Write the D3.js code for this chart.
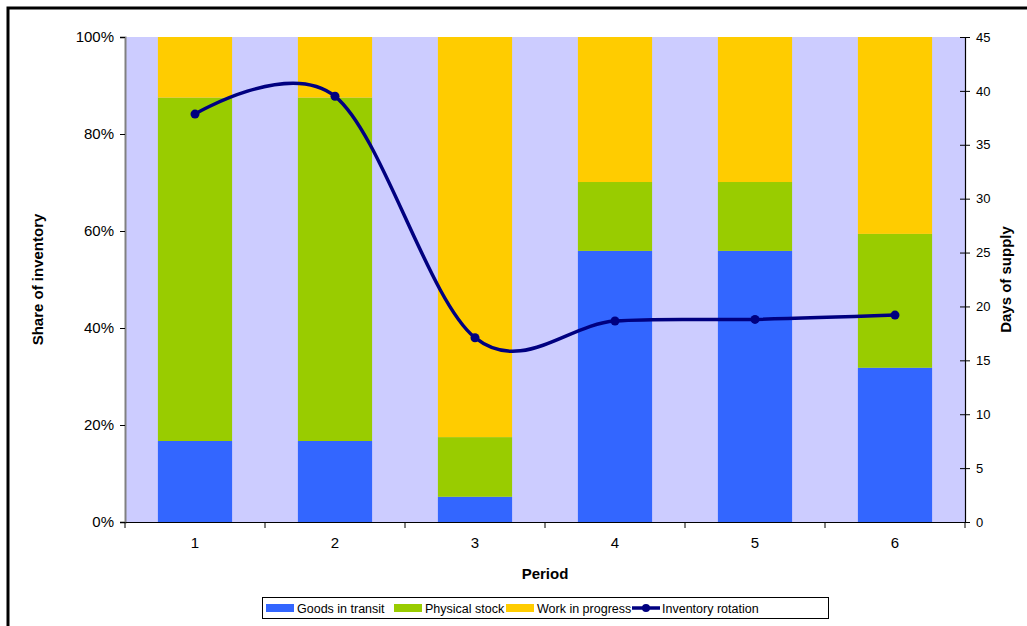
<!DOCTYPE html>
<html>
<head>
<meta charset="utf-8">
<script src="https://cdn.jsdelivr.net/npm/d3@7"></script>
<style>
  body { margin: 0; background: #fff; }
  svg { font-family: "Liberation Sans", Arial, sans-serif; }
</style>
</head>
<body>
<div id="chart"></div>
<script>
var periods = ["1", "2", "3", "4", "5", "6"];
var goodsInTransit = [16.7, 16.7, 5.2, 55.9, 55.9, 31.8];
var physicalStock = [70.8, 70.8, 12.3, 14.2, 14.2, 27.6];
var workInProgress = [12.5, 12.5, 82.5, 29.9, 29.9, 40.6];
var inventoryRotation = [37.85, 39.5, 17.1, 18.65, 18.8, 19.2];
var leftTicks = [0, 20, 40, 60, 80, 100];
var rightTicks = [0, 5, 10, 15, 20, 25, 30, 35, 40, 45];

var seriesNames = ["Goods in transit", "Physical stock", "Work in progress"];
var colors = ["#3366FF", "#99CC00", "#FFCC00"];

var W = 1027, H = 626;
var svg = d3.select("#chart").append("svg").attr("width", W).attr("height", H);

// outer frame
svg.append("rect").attr("x", 8).attr("y", 8).attr("width", W + 10).attr("height", H + 10)
  .attr("fill", "none").attr("stroke", "#000").attr("stroke-width", 3);

var pLeft = 125, pRight = 965, pTop = 37, pBottom = 522;

var x = d3.scaleBand().domain(periods).range([pLeft, pRight]).paddingInner(0.47).paddingOuter(0.235);
var xOuter = d3.scaleBand().domain(periods).range([pLeft, pRight]);
var y = d3.scaleLinear().domain([0, 100]).range([pBottom, pTop]);
var y2 = d3.scaleLinear().domain([0, 45]).range([pBottom, pTop]);

svg.append("rect").attr("x", pLeft).attr("y", pTop).attr("width", pRight - pLeft).attr("height", pBottom - pTop)
  .attr("fill", "#CCCCFF");

var rows = periods.map(function(p, i) {
  return { period: p, g: goodsInTransit[i], s: physicalStock[i], w: workInProgress[i] };
});
var stack = d3.stack().keys(["g", "s", "w"])(rows);

svg.selectAll("g.layer").data(stack).enter().append("g")
  .attr("class", "layer")
  .attr("fill", function(d, i) { return colors[i]; })
  .selectAll("rect").data(function(d) { return d; }).enter().append("rect")
  .attr("x", function(d) { return x(d.data.period); })
  .attr("width", x.bandwidth())
  .attr("y", function(d) { return y(d[1]); })
  .attr("height", function(d) { return y(d[0]) - y(d[1]); });

// left axis
var leftAxis = svg.append("g").attr("transform", "translate(" + pLeft + ",0)")
  .call(d3.axisLeft(y).tickValues(leftTicks).tickSize(5).tickPadding(6)
    .tickFormat(function(d) { return d + "%"; }));
leftAxis.select(".domain").attr("stroke", "#808080").attr("stroke-width", 2);
leftAxis.selectAll("text").attr("font-size", 15).attr("fill", "#000");

// right axis
var rightAxis = svg.append("g").attr("transform", "translate(" + pRight + ",0)")
  .call(d3.axisRight(y2).tickValues(rightTicks).tickSize(5).tickPadding(6));
rightAxis.selectAll(".tick line").attr("x1", -5);
rightAxis.select(".domain").attr("stroke", "#000").attr("stroke-width", 1.2);
rightAxis.selectAll("text").attr("font-size", 13).attr("fill", "#000");

// bottom axis
var bottomAxis = svg.append("g").attr("transform", "translate(0," + pBottom + ")")
  .call(d3.axisBottom(xOuter).tickSize(0).tickPadding(15));
bottomAxis.select(".domain").attr("stroke", "#000").attr("stroke-width", 1.2);
bottomAxis.selectAll("text").attr("font-size", 15).attr("fill", "#000");
bottomAxis.selectAll("line.sep").data(d3.range(periods.length + 1)).enter().append("line")
  .attr("class", "sep")
  .attr("x1", function(i) { return pLeft + i * xOuter.step(); })
  .attr("x2", function(i) { return pLeft + i * xOuter.step(); })
  .attr("y1", 0).attr("y2", 6).attr("stroke", "#000");

// line
var cx = function(d, i) { return x(periods[i]) + x.bandwidth() / 2; };
var line = d3.line().x(cx).y(function(d) { return y2(d); }).curve(d3.curveCatmullRom.alpha(0));
svg.append("path").datum(inventoryRotation).attr("d", line)
  .attr("fill", "none").attr("stroke", "#000080").attr("stroke-width", 3.5);
svg.selectAll("circle.pt").data(inventoryRotation).enter().append("circle")
  .attr("class", "pt").attr("cx", cx).attr("cy", function(d) { return y2(d); })
  .attr("r", 4.5).attr("fill", "#000080");

// axis titles
svg.append("text").attr("transform", "translate(43," + ((pTop + pBottom) / 2) + ") rotate(-90)")
  .attr("text-anchor", "middle").attr("font-size", 15).attr("font-weight", "bold").text("Share of inventory");
svg.append("text").attr("transform", "translate(1011," + ((pTop + pBottom) / 2) + ") rotate(-90)")
  .attr("text-anchor", "middle").attr("font-size", 15).attr("font-weight", "bold").text("Days of supply");
svg.append("text").attr("x", (pLeft + pRight) / 2).attr("y", 579)
  .attr("text-anchor", "middle").attr("font-size", 15).attr("font-weight", "bold").text("Period");

// legend
var lg = svg.append("g").attr("transform", "translate(262,597)");
lg.append("rect").attr("x", 0.5).attr("y", 0.5).attr("width", 566).attr("height", 21)
  .attr("fill", "#fff").attr("stroke", "#000");
var legendX = [4, 132, 244];
seriesNames.forEach(function(n, i) {
  lg.append("rect").attr("x", legendX[i]).attr("y", 7).attr("width", 28).attr("height", 8).attr("fill", colors[i]);
  lg.append("text").attr("x", legendX[i] + 31).attr("y", 16).attr("font-size", 12.5).text(n);
});
lg.append("line").attr("x1", 370).attr("x2", 398).attr("y1", 11).attr("y2", 11)
  .attr("stroke", "#000080").attr("stroke-width", 3.5);
lg.append("circle").attr("cx", 384).attr("cy", 11).attr("r", 4).attr("fill", "#000080");
lg.append("text").attr("x", 400).attr("y", 16).attr("font-size", 12.5).text("Inventory rotation");
</script>
</body>
</html>
